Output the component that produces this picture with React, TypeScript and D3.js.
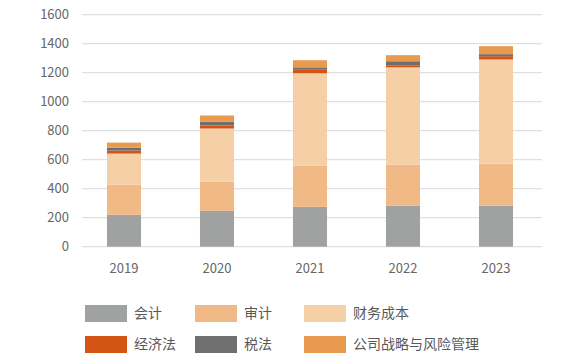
import React, { useEffect, useRef } from 'react';
import * as d3 from 'd3';

// years on the x axis
const years = ['2019', '2020', '2021', '2022', '2023'];

// series values per year
const kuaiji = [220, 247, 275, 282, 282];
const shenji = [207, 201, 284, 284, 291];
const caiwu = [215, 367, 637, 671, 718];
const jingjifa = [21, 21, 28, 14, 23];
const shuifa = [20, 27, 13, 28, 14];
const zhanlue = [35, 42, 49, 42, 55];

const seriesNames = ['会计', '审计', '财务成本', '经济法', '税法', '公司战略与风险管理'];
const seriesValues = [kuaiji, shenji, caiwu, jingjifa, shuifa, zhanlue];
const colors = ['#A0A2A1', '#F0B985', '#F5CFA5', '#D35414', '#6F6F6F', '#E89B4F'];

const yTicks = [0, 200, 400, 600, 800, 1000, 1200, 1400, 1600];

const FONT = '"Noto Sans CJK SC", "Noto Sans", sans-serif';

const App = () => {
  const ref = useRef<SVGSVGElement | null>(null);

  useEffect(() => {
    const svg = d3.select(ref.current);
    svg.selectAll('*').remove();

    const x = d3.scaleBand()
      .domain(years)
      .range([77.5, 542.5])
      .paddingInner(0.634)
      .paddingOuter(0.317);

    const y = d3.scaleLinear()
      .domain([0, 1600])
      .range([246.7, 14.7]);

    // gridlines
    svg.append('g')
      .selectAll('line')
      .data(yTicks)
      .enter()
      .append('line')
      .attr('x1', 82)
      .attr('x2', 542)
      .attr('y1', d => y(d))
      .attr('y2', d => y(d))
      .attr('stroke', '#d9d9d9')
      .attr('stroke-width', 1);

    // y tick labels
    svg.append('g')
      .selectAll('text')
      .data(yTicks)
      .enter()
      .append('text')
      .attr('x', 69)
      .attr('y', d => y(d))
      .attr('dy', '0.35em')
      .attr('text-anchor', 'end')
      .attr('font-family', FONT)
      .attr('font-size', 13)
      .attr('fill', '#666')
      .text(d => d);

    // stacked bars
    const rows = years.map((yr, i) => {
      const row: any = { year: yr };
      seriesNames.forEach((n, j) => { row[n] = seriesValues[j][i]; });
      return row;
    });
    const stack = d3.stack().keys(seriesNames)(rows);

    svg.append('g')
      .selectAll('g')
      .data(stack)
      .enter()
      .append('g')
      .attr('fill', (d, i) => colors[i])
      .selectAll('rect')
      .data(d => d)
      .enter()
      .append('rect')
      .attr('x', (d: any) => x(d.data.year) as number)
      .attr('y', d => y(d[1]))
      .attr('width', x.bandwidth())
      .attr('height', d => y(d[0]) - y(d[1]));

    // x labels
    svg.append('g')
      .selectAll('text')
      .data(years)
      .enter()
      .append('text')
      .attr('x', d => (x(d) as number) + x.bandwidth() / 2)
      .attr('y', 268)
      .attr('dy', '0.35em')
      .attr('text-anchor', 'middle')
      .attr('font-family', FONT)
      .attr('font-size', 13)
      .attr('fill', '#666')
      .text(d => d);

    // legend
    const legX = [85, 195, 304];
    const legY = [305, 336];
    const legend = svg.append('g')
      .selectAll('g')
      .data(seriesNames)
      .enter()
      .append('g')
      .attr('transform', (d, i) => `translate(${legX[i % 3]},${legY[Math.floor(i / 3)]})`);

    legend.append('rect')
      .attr('width', 42)
      .attr('height', 17)
      .attr('fill', (d, i) => colors[i]);

    legend.append('text')
      .attr('x', 49)
      .attr('y', 8.5)
      .attr('dy', '0.35em')
      .attr('font-family', FONT)
      .attr('font-size', 14)
      .attr('fill', '#595959')
      .text(d => d);
  }, []);

  return (
    <svg ref={ref} width={577} height={364} style={{ position: 'absolute', left: 0, top: 0 }} />
  );
};

export default App;
